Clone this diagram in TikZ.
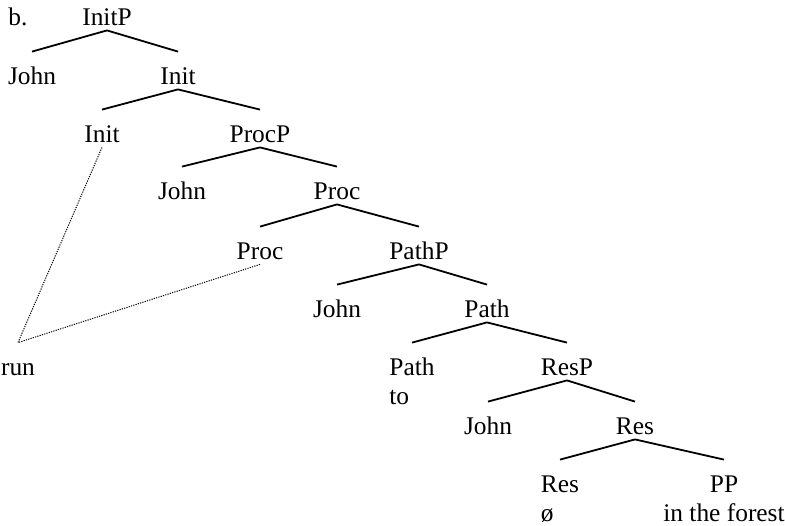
\documentclass[tikz,border=0pt]{standalone}
\usepackage{fontspec}
\setmainfont{Liberation Serif}
\begin{document}
\begin{tikzpicture}[x=0.5pt,y=-0.5pt]
		\tikzset{cat/.style={anchor=base, font=\fontsize{12.7}{14.5}\selectfont, text height=13.5pt, text depth=0pt, inner xsep=1pt, inner ysep=2.5pt, align=left}}
		\tikzset{cattwo/.style={cat, text height=28pt}}
		\tikzset{branch/.style={line width=0.9pt}}
		\tikzset{link/.style={line width=0.5pt, dash pattern=on 0.6pt off 0.6pt}}
		\useasboundingbox (0,0) rectangle (785,525);

		\node[cat] (B) at (18,25) {b.};
		\node[cat] (InitP) at (107,25) {InitP};
		\node[cat] (JohnA) at (32,84) {John};
		\node[cat] (InitA) at (178,84) {Init};
		\node[cat] (InitB) at (102,142) {Init};
		\node[cat] (ProcP) at (260,142) {ProcP};
		\node[cat] (JohnB) at (182,199) {John};
		\node[cat] (ProcA) at (337,199) {Proc};
		\node[cat] (ProcB) at (260,259) {Proc};
		\node[cat] (PathP) at (419,259) {PathP};
		\node[cat] (JohnC) at (337,317) {John};
		\node[cat] (PathA) at (487,317) {Path};
		\node[cattwo] (PathB) at (412,404) {Path\\to};
		\node[cat] (ResP) at (567,375) {ResP};
		\node[cat] (JohnD) at (488,434) {John};
		\node[cat] (ResA) at (635,434) {Res};
		\node[cattwo] (ResB) at (560,521) {Res\\ø};
		\node[cattwo, align=center] (PP) at (724,521) {PP\\in the forest};
		\node[cat] (Run) at (18,375) {run};

    \draw[branch] (InitP.south) -- (JohnA.north);
    \draw[branch] (InitP.south) -- (InitA.north);
    \draw[branch] (InitA.south) -- (InitB.north);
    \draw[branch] (InitA.south) -- (ProcP.north);
    \draw[branch] (ProcP.south) -- (JohnB.north);
    \draw[branch] (ProcP.south) -- (ProcA.north);
    \draw[branch] (ProcA.south) -- (ProcB.north);
    \draw[branch] (ProcA.south) -- (PathP.north);
    \draw[branch] (PathP.south) -- (JohnC.north);
    \draw[branch] (PathP.south) -- (PathA.north);
    \draw[branch] (PathA.south) -- (PathB.north);
    \draw[branch] (PathA.south) -- (ResP.north);
    \draw[branch] (ResP.south) -- (JohnD.north);
    \draw[branch] (ResP.south) -- (ResA.north);
    \draw[branch] (ResA.south) -- (ResB.north);
    \draw[branch] (ResA.south) -- (PP.north);

    \draw[link] (InitB.south) -- (Run.north) -- (ProcB.south);

		\end{tikzpicture}
\end{document}
